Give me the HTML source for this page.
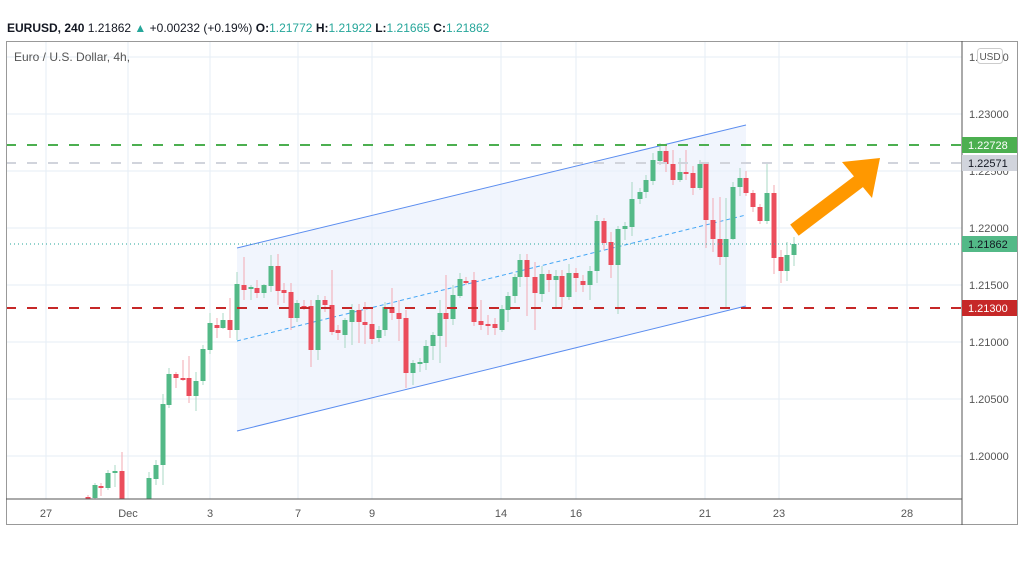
<!DOCTYPE html>
<html><head><meta charset="utf-8"><style>
body{margin:0;background:#fff;width:1024px;height:560px;overflow:hidden;font-family:"Liberation Sans",sans-serif}
</style></head><body>
<svg width="1024" height="560" xmlns="http://www.w3.org/2000/svg" font-family="Liberation Sans, sans-serif">
<rect width="1024" height="560" fill="#fff"/>
<text x="7" y="32" font-size="12" fill="#131722"><tspan font-weight="bold">EURUSD, 240</tspan> 1.21862 <tspan fill="#26a69a">▲</tspan> +0.00232 (+0.19%) <tspan font-weight="bold">O:</tspan><tspan fill="#26a69a">1.21772</tspan> <tspan font-weight="bold">H:</tspan><tspan fill="#26a69a">1.21922</tspan> <tspan font-weight="bold">L:</tspan><tspan fill="#26a69a">1.21665</tspan> <tspan font-weight="bold">C:</tspan><tspan fill="#26a69a">1.21862</tspan></text>
<!-- grid -->
<g stroke="#e6eef5" stroke-width="1">
<line x1="6" x2="962" y1="57" y2="57"/><line x1="6" x2="962" y1="114" y2="114"/><line x1="6" x2="962" y1="171" y2="171"/><line x1="6" x2="962" y1="228" y2="228"/><line x1="6" x2="962" y1="285" y2="285"/><line x1="6" x2="962" y1="342" y2="342"/><line x1="6" x2="962" y1="399" y2="399"/><line x1="6" x2="962" y1="456" y2="456"/>
<line x1="46" x2="46" y1="41" y2="499"/><line x1="128" x2="128" y1="41" y2="499"/><line x1="210" x2="210" y1="41" y2="499"/><line x1="298" x2="298" y1="41" y2="499"/><line x1="372" x2="372" y1="41" y2="499"/><line x1="501" x2="501" y1="41" y2="499"/><line x1="576" x2="576" y1="41" y2="499"/><line x1="705" x2="705" y1="41" y2="499"/><line x1="779" x2="779" y1="41" y2="499"/><line x1="907" x2="907" y1="41" y2="499"/>
</g>
<text x="14" y="61" font-size="12" fill="#555">Euro / U.S. Dollar, 4h,</text>
<!-- channel -->
<polygon points="237,248 746,125 746,306 237,431" fill="#e8eefc" fill-opacity="0.6"/>
<line x1="237" y1="248" x2="746" y2="125" stroke="#5b8def" stroke-width="1"/>
<line x1="237" y1="431" x2="746" y2="306" stroke="#5b8def" stroke-width="1"/>
<line x1="237" y1="341" x2="746" y2="215" stroke="#42a5f5" stroke-width="1" stroke-dasharray="4,3"/>
<!-- candles -->
<g id="c"></g>
<!-- levels -->
<line x1="6" x2="962" y1="145" y2="145" stroke="#4caf50" stroke-width="2" stroke-dasharray="10,11"/>
<line x1="6" x2="962" y1="163" y2="163" stroke="#d1d4dc" stroke-width="2" stroke-dasharray="10,11"/>
<line x1="6" x2="962" y1="308" y2="308" stroke="#c62828" stroke-width="2" stroke-dasharray="10,11"/>
<line x1="6" x2="962" y1="244" y2="244" stroke="#26a69a" stroke-width="1" stroke-dasharray="1,3"/>
<!-- arrow -->
<line x1="800" y1="226" x2="858" y2="182" stroke="#ff9800" stroke-width="14" stroke-linecap="square"/>
<polygon points="842,162 880,158 872,198" fill="#ff9800"/>
<!-- frame -->
<rect x="6.5" y="41.5" width="1011" height="483" fill="none" stroke="#999" stroke-width="1"/>
<line x1="6" x2="962" y1="499" y2="499" stroke="#555"/>
<line x1="962" x2="962" y1="41" y2="525" stroke="#555"/>
<g font-size="11" fill="#555" text-anchor="middle">
<text x="46" y="517">27</text><text x="128" y="517">Dec</text><text x="210" y="517">3</text><text x="298" y="517">7</text><text x="372" y="517">9</text><text x="501" y="517">14</text><text x="576" y="517">16</text><text x="705" y="517">21</text><text x="779" y="517">23</text><text x="907" y="517">28</text>
</g>
<g font-size="11" fill="#555">
<text x="969" y="61">1.23500</text><text x="969" y="118">1.23000</text><text x="969" y="175">1.22500</text><text x="969" y="232">1.22000</text><text x="969" y="289">1.21500</text><text x="969" y="346">1.21000</text><text x="969" y="403">1.20500</text><text x="969" y="460">1.20000</text>
</g>
<rect x="977.5" y="48.5" width="25" height="15" rx="3" fill="#fff" stroke="#ccc"/>
<text x="990" y="60" font-size="10" fill="#555" text-anchor="middle">USD</text>
<rect x="962" y="137" width="55" height="16" fill="#4caf50"/><text x="968" y="149" font-size="11" fill="#fff">1.22728</text>
<rect x="962" y="155" width="55" height="16" fill="#d1d4dc"/><text x="968" y="167" font-size="11" fill="#131722">1.22571</text>
<rect x="962" y="236" width="55" height="16" fill="#53b987"/><text x="968" y="248" font-size="11" fill="#131722">1.21862</text>
<rect x="962" y="300" width="55" height="16" fill="#c62828"/><text x="968" y="312" font-size="11" fill="#fff">1.21300</text>
</svg>
<script>
var d=[[88,497,499,495,499],[95,498,485,483,499],[101,486,488,483,496],[108,488,473,470,490],[115,473,471,465,487],[122,471,499,452,499],
[149,499,478,472,499],[156,479,465,460,485],[163,465,404,394,485],[169,405,374,368,408],[176,374,378,372,388],[183,378,378,360,381],[189,378,396,356,403],[196,396,381,372,411],[203,381,349,345,385],[210,350,323,313,354],[217,325,328,318,338],[223,328,320,313,329],[230,320,330,298,338],
[237,330,284,272,340],[244,285,290,257,300],[251,289,287,285,300],[257,288,293,280,298],[264,293,285,284,298],[271,286,266,255,292],[278,266,291,254,305],[284,290,293,283,303],[291,292,318,283,330],[297,318,303,300,322],[304,306,306,300,310],[311,306,350,300,367],[318,350,300,295,360],[325,300,305,296,312],[332,305,332,270,335],[338,330,333,325,340],[345,335,320,318,348],[352,322,310,304,345],[359,310,322,304,343],[365,322,325,302,344],[372,324,339,308,344],[379,338,330,326,342],[385,330,307,302,336],[392,307,313,288,320],[399,313,319,300,341],[406,318,373,310,388],[413,373,363,360,385],[420,364,362,358,372],[426,363,346,340,370],[433,346,335,332,360],[440,336,313,300,363],[446,313,319,275,347],[453,319,295,285,325],[460,296,279,273,298],[466,281,282,277,285],[474,280,322,272,326],[481,321,325,300,330],[488,324,324,315,335],[495,324,328,318,335],
[502,330,309,305,332],[508,310,296,292,322],[515,296,277,274,303],[520,277,260,254,287],[527,260,277,254,316],[535,277,293,262,330],[542,294,274,266,302],[549,274,280,270,292],[556,280,276,270,309],[562,276,297,270,308],[569,297,273,264,300],[576,273,278,268,292],[583,281,285,275,292],[590,285,271,266,300],[597,271,221,215,283],[604,221,243,218,250],[611,242,265,232,278],[618,265,229,226,314],[625,229,226,222,240],[632,227,199,182,236],[640,199,192,188,204],[646,192,180,175,198],[653,181,160,153,185],[660,161,151,143,165],[666,151,164,145,172],[673,164,180,150,185],[680,180,172,158,182],[686,172,173,150,180],[693,173,188,166,195],[700,188,164,160,190],[706,164,220,162,248],[713,220,239,198,252],[720,239,257,197,265],[726,257,239,198,308],[733,239,187,182,240],[740,187,178,168,196],[746,178,193,171,196],[753,193,207,190,212],[760,207,221,204,224],[767,221,193,163,224],[774,193,258,185,274],[781,257,271,250,283],[787,271,255,242,281],[794,255,244,237,266]];
var s='';d.forEach(function(c){var up=c[2]<c[1];var col=up?'#53b987':'#eb4d5c';var wc=up?'#a8d8c4':'#f3a9b2';var t=Math.min(c[1],c[2]),b=Math.max(c[1],c[2]);if(b-t<2)b=t+2;
s+='<line x1="'+c[0]+'" x2="'+c[0]+'" y1="'+c[3]+'" y2="'+c[4]+'" stroke="'+wc+'"/><rect x="'+(c[0]-2.5)+'" y="'+t+'" width="5" height="'+(b-t)+'" fill="'+col+'"/>';});
document.getElementById('c').innerHTML=s;
</script>
</body></html>
